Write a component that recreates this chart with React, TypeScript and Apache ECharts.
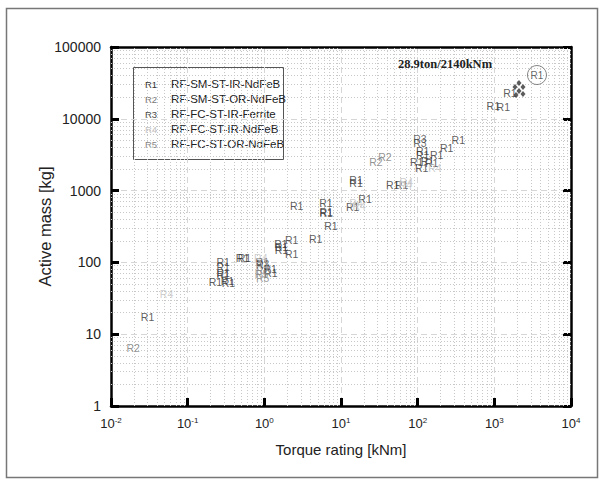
import React, { useEffect, useRef } from "react";
import * as echarts from "echarts";

// Axis ranges (log-log)
const X_RANGE = [0.01, 10000];
const Y_RANGE = [1, 100000];
const X_DECADES = [0.01, 0.1, 1, 10, 100, 1000];
const Y_DECADES = [1, 10, 100, 1000, 10000];
const MINOR_MULT = [2, 3, 4, 5, 6, 7, 8, 9];

// Series: [torque kNm, active mass kg]
const R1: [number, number][] = [
  [0.030, 17.4], [0.23, 53], [0.29, 100], [0.29, 85], [0.29, 72], [0.29, 66],
  [0.33, 55], [0.34, 52], [0.52, 115], [0.55, 117], [0.94, 102], [0.95, 92],
  [1.19, 81], [1.22, 71], [1.65, 180], [1.67, 162], [1.67, 149], [2.27, 205],
  [2.27, 130], [4.68, 210], [2.64, 617], [6.37, 665], [6.4, 510], [6.4, 480],
  [7.4, 321], [15.7, 1405], [15.7, 1264], [20.6, 757], [14.2, 585], [47.2, 1197],
  [62, 1180], [116, 3560], [116, 3130], [97, 2528], [113, 2085], [134, 2585],
  [177, 3130], [152, 2400], [239, 3960], [339, 5067], [970, 15070], [1309, 14450],
  [1600, 22650],
];
const R2: [number, number][] = [[0.0195, 6.5], [28.6, 2528], [37.5, 2967], [0.95, 78]];
const R3: [number, number][] = [[107, 5233], [107, 4550], [0.95, 96]];
const R4: [number, number][] = [
  [0.053, 36], [0.9, 115], [15.7, 679], [17.3, 620], [69, 1200], [71, 1300], [168, 2045], [0.93, 88],
];
const R5: [number, number][] = [[0.95, 60], [0.92, 68]];
const DIAMONDS: [number, number][] = [
  [2097, 31520], [1859, 27730], [2364, 27730], [2097, 24390], [1916, 21460], [2364, 22150],
];
const HIGHLIGHT: [number, number][] = [[3600, 40700]];

const SERIES_NAMES = ["R1", "R2", "R3", "R4", "R5"];
const SERIES_DESC = [
  "RF-SM-ST-IR-NdFeB",
  "RF-SM-ST-OR-NdFeB",
  "RF-FC-ST-IR-Ferrite",
  "RF-FC-ST-IR-NdFeB",
  "RF-FC-ST-OR-NdFeB",
];
const SERIES_DATA = [R1, R2, R3, R4, R5];
const SERIES_COLORS = ["#333333", "#777777", "#4a4a4a", "#c2c2c2", "#858585"];
const ANNOTATION = "28.9ton/2140kNm";

const SANS = "'Liberation Sans Narrow', 'Liberation Sans', Arial, sans-serif";
const SANS_REG = "'Liberation Sans', Arial, sans-serif";

export default function App() {
  const ref = useRef<HTMLDivElement>(null);
  useEffect(() => {
    if (!ref.current) return;
    const chart = echarts.init(ref.current, undefined, { renderer: "svg" });

    const minorX: any[] = [];
    X_DECADES.forEach((d) => MINOR_MULT.forEach((m) => minorX.push({ xAxis: d * m })));
    const minorY: any[] = [];
    Y_DECADES.forEach((d) => MINOR_MULT.forEach((m) => minorY.push({ yAxis: d * m })));

    const labelSeries = SERIES_NAMES.map((name, i) => ({
      name,
      type: "scatter",
      data: SERIES_DATA[i],
      symbol: "circle",
      symbolSize: 1,
      itemStyle: { color: "rgba(0,0,0,0)" },
      z: 3,
      label: {
        show: true,
        position: "inside",
        formatter: name,
        fontSize: 10.5,
        fontFamily: SANS,
        color: SERIES_COLORS[i],
      },
      emphasis: { disabled: true },
    }));

    const supFmt = (v: number) => {
      const e = Math.round(Math.log10(v));
      return `{b|10}{s|${e}}`;
    };

    chart.setOption({
      animation: false,
      backgroundColor: "#ffffff",
      grid: { left: 111, right: 35, top: 47, bottom: 76 },
      xAxis: [
        {
          type: "log",
          logBase: 10,
          min: X_RANGE[0],
          max: X_RANGE[1],
          name: "Torque rating [kNm]",
          nameLocation: "middle",
          nameGap: 36,
          nameTextStyle: { fontSize: 15, color: "#222", fontFamily: SANS_REG },
          axisLine: { show: true, lineStyle: { color: "#000", width: 2.5 } },
          axisTick: { show: true, inside: true, length: 8, lineStyle: { color: "#000", width: 3 } },
          axisLabel: {
            formatter: supFmt,
            margin: 10,
            rich: {
              b: { fontSize: 13, color: "#222", fontFamily: SANS },
              s: { fontSize: 8, color: "#222", fontFamily: SANS, verticalAlign: "top", padding: [0, 0, 6, 0] },
            },
          },
          splitLine: { show: true, lineStyle: { color: "#d6d6d6", type: [6, 4], width: 1 } },
        },
        {
          type: "log",
          logBase: 10,
          min: X_RANGE[0],
          max: X_RANGE[1],
          position: "top",
          axisLine: { show: true, lineStyle: { color: "#000", width: 2.5 } },
          axisTick: { show: false },
          axisLabel: { show: false },
          splitLine: { show: false },
        },
      ],
      yAxis: [
        {
          type: "log",
          logBase: 10,
          min: Y_RANGE[0],
          max: Y_RANGE[1],
          name: "Active mass [kg]",
          nameLocation: "middle",
          nameGap: 58,
          nameMoveOverlap: false,
          nameTextStyle: { fontSize: 16.5, color: "#222", fontFamily: SANS_REG },
          axisLine: { show: true, lineStyle: { color: "#000", width: 2.5 } },
          axisTick: { show: true, inside: true, length: 8, lineStyle: { color: "#000", width: 3 } },
          axisLabel: {
            formatter: (v: number) => String(Math.round(v)),
            fontSize: 14,
            color: "#222",
            fontFamily: SANS,
            margin: 10,
          },
          splitLine: { show: true, lineStyle: { color: "#d6d6d6", type: [6, 4], width: 1 } },
        },
        {
          type: "log",
          logBase: 10,
          min: Y_RANGE[0],
          max: Y_RANGE[1],
          position: "right",
          axisLine: { show: true, lineStyle: { color: "#000", width: 2.5 } },
          axisTick: { show: true, inside: true, length: 8, lineStyle: { color: "#000", width: 3 } },
          axisLabel: { show: false },
          splitLine: { show: false },
        },
      ],
      series: [
        {
          name: "minor-grid",
          type: "scatter",
          data: [],
          silent: true,
          markLine: {
            silent: true,
            z: 1,
            symbol: "none",
            label: { show: false },
            lineStyle: { color: "#c8c8c8", type: [1, 2], width: 1 },
            emphasis: { disabled: true },
            data: [...minorX, ...minorY],
          },
        },
        ...labelSeries,
        {
          name: "diamonds",
          type: "scatter",
          data: DIAMONDS,
          symbol: "diamond",
          symbolSize: [5, 6],
          itemStyle: { color: "#333" },
          z: 4,
          emphasis: { disabled: true },
        },
        {
          name: "highlight",
          type: "scatter",
          data: HIGHLIGHT,
          symbol: "circle",
          symbolSize: 19,
          itemStyle: { color: "rgba(255,255,255,0)", borderColor: "#666", borderWidth: 1 },
          label: {
            show: true,
            position: "inside",
            formatter: "R1",
            fontSize: 10,
            fontFamily: SANS,
            color: "#444",
          },
          emphasis: { disabled: true },
        },
      ],
      graphic: [
        {
          type: "rect",
          silent: true,
          z: -10,
          shape: { x: 6.5, y: 8.5, width: 591, height: 469 },
          style: { fill: "none", stroke: "#777", lineWidth: 1.5 },
        },
        {
          type: "group",
          z: 100,
          children: [
            {
              type: "rect",
              shape: { x: 133.5, y: 67.5, width: 150, height: 92 },
              style: { fill: "#ffffff", stroke: "#555", lineWidth: 1 },
            },
            ...SERIES_NAMES.flatMap((n, i) => [
              {
                type: "text",
                x: 151,
                y: 84 + 15 * i,
                style: {
                  text: n,
                  fill: SERIES_COLORS[i],
                  font: `9.5px ${SANS}`,
                  textAlign: "center",
                  textVerticalAlign: "middle",
                },
              },
              {
                type: "text",
                x: 171,
                y: 84 + 15 * i,
                style: {
                  text: SERIES_DESC[i],
                  fill: "#222",
                  font: `11.5px ${SANS}`,
                  textAlign: "left",
                  textVerticalAlign: "middle",
                },
              },
            ]),
          ],
        },
        {
          type: "text",
          x: 445,
          y: 64,
          z: 100,
          style: {
            text: ANNOTATION,
            fill: "#222",
            font: "bold 12.5px 'Liberation Serif', 'Times New Roman', serif",
            textAlign: "center",
            textVerticalAlign: "middle",
          },
        },
      ],
    });
    return () => chart.dispose();
  }, []);
  return <div ref={ref} style={{ width: 606, height: 482, position: "absolute", left: 0, top: 0 }} />;
}
